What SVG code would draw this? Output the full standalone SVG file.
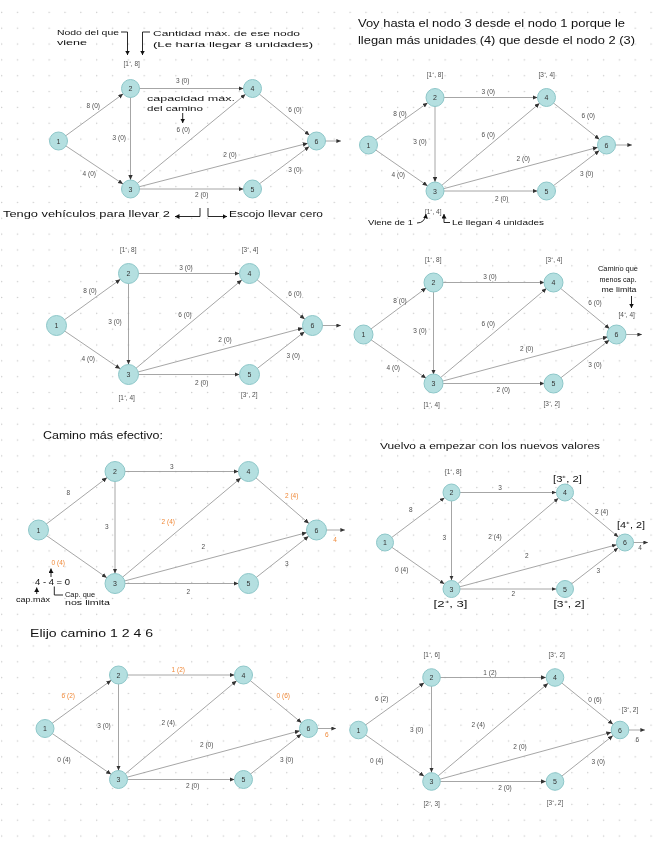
<svg xmlns="http://www.w3.org/2000/svg" width="656" height="848" viewBox="0 0 656 848">
<style>
.n{fill:#b4dfe0;stroke:#8cc6c8;stroke-width:1}
.nt{font-family:"Liberation Sans",Arial,sans-serif;font-size:7px;fill:#333;text-anchor:middle}
.e line{stroke:#9c9c9c;stroke-width:0.9}
.e9 line{marker-end:url(#a9)}
.e10 line{marker-end:url(#a10)}
.e85 line{marker-end:url(#a85)}
.e line.out{marker-end:url(#at)}
.l{font-family:"Liberation Sans",Arial,sans-serif;font-size:6.5px;fill:#505050;text-anchor:middle}
.o{fill:#f08a3a}
.h{font-family:"Liberation Sans",Arial,sans-serif;fill:#111}
.ha{fill:none;stroke:#111;stroke-width:0.9;marker-end:url(#ah)}
.hb{fill:none;stroke:#111;stroke-width:0.9}
</style>
<defs>
<filter id="gs" filterUnits="userSpaceOnUse" x="0" y="0" width="656" height="848"><feOffset dx="0" dy="0"/></filter>
<pattern id="dots" width="15.84" height="15.84" patternUnits="userSpaceOnUse"><circle cx="1.7" cy="12.4" r="0.65" fill="#c4c4c4"/></pattern>
<marker id="a9" markerUnits="userSpaceOnUse" markerWidth="6" markerHeight="5" refX="14" refY="2.2" orient="auto"><path d="M0,0 L5,2.2 L0,4.4z" fill="#333"/></marker>
<marker id="a10" markerUnits="userSpaceOnUse" markerWidth="6" markerHeight="5" refX="15" refY="2.2" orient="auto"><path d="M0,0 L5,2.2 L0,4.4z" fill="#333"/></marker>
<marker id="a85" markerUnits="userSpaceOnUse" markerWidth="6" markerHeight="5" refX="13.3" refY="2" orient="auto"><path d="M0,0 L4.6,2 L0,4z" fill="#333"/></marker>
<marker id="at" markerUnits="userSpaceOnUse" markerWidth="6" markerHeight="5" refX="4.6" refY="2" orient="auto"><path d="M0,0 L4.6,2 L0,4z" fill="#333"/></marker>
<marker id="ah" markerUnits="userSpaceOnUse" markerWidth="6" markerHeight="6" refX="4.5" refY="2.5" orient="auto"><path d="M0,0 L4.5,2.5 L0,5z" fill="#111"/></marker>
</defs>
<rect width="656" height="848" fill="#fff"/>
<rect width="656" height="848" fill="url(#dots)"/>
<g filter="url(#gs)">

<!-- Panel 1 -->
<g id="p1">
<g id="p1-edges" class="e e9">
<line x1="58.5" y1="141" x2="130.5" y2="88.5"/>
<line x1="58.5" y1="141" x2="130.5" y2="189"/>
<line x1="130.5" y1="88.5" x2="130.5" y2="189"/>
<line x1="130.5" y1="88.5" x2="252.5" y2="88.5"/>
<line x1="130.5" y1="189" x2="252.5" y2="88.5"/>
<line x1="130.5" y1="189" x2="252.5" y2="189"/>
<line x1="130.5" y1="189" x2="316.5" y2="141"/>
<line x1="252.5" y1="88.5" x2="316.5" y2="141"/>
<line x1="252.5" y1="189" x2="316.5" y2="141"/>
<line class="out" x1="316.5" y1="141" x2="341" y2="141"/>
</g>
<g id="p1-n1"><circle class="n" cx="58.5" cy="141" r="9"/><text class="nt" x="58.5" y="143.5">1</text></g>
<g id="p1-n2"><circle class="n" cx="130.5" cy="88.5" r="9"/><text class="nt" x="130.5" y="91">2</text></g>
<g id="p1-n3"><circle class="n" cx="130.5" cy="189" r="9"/><text class="nt" x="130.5" y="191.5">3</text></g>
<g id="p1-n4"><circle class="n" cx="252.5" cy="88.5" r="9"/><text class="nt" x="252.5" y="91">4</text></g>
<g id="p1-n5"><circle class="n" cx="252.5" cy="189" r="9"/><text class="nt" x="252.5" y="191.5">5</text></g>
<g id="p1-n6"><circle class="n" cx="316.5" cy="141" r="9"/><text class="nt" x="316.5" y="143.5">6</text></g>
<g id="p1-labels">
<text class="l" x="131.7" y="65.6">[1⁺, 8]</text>
<text class="l" x="182.7" y="83.3">3 (0)</text>
<text class="l" x="93.3" y="108.3">8 (0)</text>
<text class="l" x="295" y="111.6">6 (0)</text>
<text class="l" x="119.3" y="139.6">3 (0)</text>
<text class="l" x="183.3" y="132.3">6 (0)</text>
<text class="l" x="230" y="157.3">2 (0)</text>
<text class="l" x="295" y="172.3">3 (0)</text>
<text class="l" x="89.3" y="175.6">4 (0)</text>
<text class="l" x="201.7" y="197.3">2 (0)</text>
</g>
<g id="p1-notes">
<text class="h" x="57" y="35" font-size="7.5" textLength="62" lengthAdjust="spacingAndGlyphs">Nodo del que</text>
<text class="h" x="57" y="45" font-size="7.5" textLength="30" lengthAdjust="spacingAndGlyphs">viene</text>
<path class="ha" d="M121,32 L127.5,32 L127.5,55"/>
<path class="ha" d="M150,32 L142.5,32 L142.5,55"/>
<text class="h" x="153" y="36" font-size="8" textLength="147" lengthAdjust="spacingAndGlyphs">Cantidad máx. de ese nodo</text>
<text class="h" x="153" y="47" font-size="8" textLength="160" lengthAdjust="spacingAndGlyphs">(Le haría llegar 8 unidades)</text>
<text class="h" x="147" y="101" font-size="8" textLength="88" lengthAdjust="spacingAndGlyphs">capacidad máx.</text>
<text class="h" x="147" y="111" font-size="8" textLength="56" lengthAdjust="spacingAndGlyphs">del camino</text>
<path class="ha" d="M182.7,113 L182.7,123"/>
<text class="h" x="3" y="217" font-size="9.5" textLength="167" lengthAdjust="spacingAndGlyphs">Tengo vehículos para llevar 2</text>
<path class="ha" d="M200,208 L200,216.5 L175,216.5"/>
<path class="ha" d="M208,208 L208,216.5 L227,216.5"/>
<text class="h" x="229" y="217" font-size="9.5" textLength="94" lengthAdjust="spacingAndGlyphs">Escojo llevar cero</text>
</g>
</g>

<!-- Panel 2 -->
<g id="p2">
<g id="p2-edges" class="e e9">
<line x1="368.5" y1="145" x2="435" y2="97.5"/>
<line x1="368.5" y1="145" x2="435" y2="191"/>
<line x1="435" y1="97.5" x2="435" y2="191"/>
<line x1="435" y1="97.5" x2="546.5" y2="97.5"/>
<line x1="435" y1="191" x2="546.5" y2="97.5"/>
<line x1="435" y1="191" x2="546.5" y2="191"/>
<line x1="435" y1="191" x2="606.5" y2="145"/>
<line x1="546.5" y1="97.5" x2="606.5" y2="145"/>
<line x1="546.5" y1="191" x2="606.5" y2="145"/>
<line class="out" x1="606.5" y1="145" x2="632" y2="145"/>
</g>
<g id="p2-n1"><circle class="n" cx="368.5" cy="145" r="9"/><text class="nt" x="368.5" y="147.5">1</text></g>
<g id="p2-n2"><circle class="n" cx="435" cy="97.5" r="9"/><text class="nt" x="435" y="100">2</text></g>
<g id="p2-n3"><circle class="n" cx="435" cy="191" r="9"/><text class="nt" x="435" y="193.5">3</text></g>
<g id="p2-n4"><circle class="n" cx="546.5" cy="97.5" r="9"/><text class="nt" x="546.5" y="100">4</text></g>
<g id="p2-n5"><circle class="n" cx="546.5" cy="191" r="9"/><text class="nt" x="546.5" y="193.5">5</text></g>
<g id="p2-n6"><circle class="n" cx="606.5" cy="145" r="9"/><text class="nt" x="606.5" y="147.5">6</text></g>
<g id="p2-labels">
<text class="l" x="435" y="77.3">[1⁺, 8]</text>
<text class="l" x="546.7" y="77.3">[3⁺, 4]</text>
<text class="l" x="488.3" y="94">3 (0)</text>
<text class="l" x="400" y="115.6">8 (0)</text>
<text class="l" x="588.3" y="118.3">6 (0)</text>
<text class="l" x="420" y="144">3 (0)</text>
<text class="l" x="488.3" y="137.3">6 (0)</text>
<text class="l" x="523.3" y="160.6">2 (0)</text>
<text class="l" x="586.7" y="175.6">3 (0)</text>
<text class="l" x="398.3" y="177.3">4 (0)</text>
<text class="l" x="501.7" y="200.6">2 (0)</text>
<text class="l" x="433.3" y="214">[1⁺, 4]</text>
</g>
<g id="p2-notes">
<text class="h" x="358" y="27" font-size="10" textLength="267" lengthAdjust="spacingAndGlyphs">Voy hasta el nodo 3 desde el nodo 1  porque le</text>
<text class="h" x="358" y="43.5" font-size="10" textLength="277" lengthAdjust="spacingAndGlyphs">llegan más unidades (4) que desde el nodo 2 (3)</text>
<text class="h" x="368" y="225" font-size="8" textLength="45" lengthAdjust="spacingAndGlyphs">Viene de 1</text>
<path class="ha" d="M417,223 Q425,223 426,214"/>
<path class="ha" d="M450,222.5 L444,222.5 L444,214"/>
<text class="h" x="452" y="225" font-size="8" textLength="92" lengthAdjust="spacingAndGlyphs">Le llegan 4 unidades</text>
</g>
</g>

<!-- Panel 3 -->
<g id="p3">
<g id="p3-edges" class="e e10">
<line x1="56.5" y1="325.5" x2="128.5" y2="273.5"/>
<line x1="56.5" y1="325.5" x2="128.5" y2="374.5"/>
<line x1="128.5" y1="273.5" x2="128.5" y2="374.5"/>
<line x1="128.5" y1="273.5" x2="249.5" y2="273.5"/>
<line x1="128.5" y1="374.5" x2="249.5" y2="273.5"/>
<line x1="128.5" y1="374.5" x2="249.5" y2="374.5"/>
<line x1="128.5" y1="374.5" x2="312.5" y2="325.5"/>
<line x1="249.5" y1="273.5" x2="312.5" y2="325.5"/>
<line x1="249.5" y1="374.5" x2="312.5" y2="325.5"/>
<line class="out" x1="312.5" y1="325.5" x2="341" y2="325.5"/>
</g>
<g id="p3-n1"><circle class="n" cx="56.5" cy="325.5" r="10"/><text class="nt" x="56.5" y="328">1</text></g>
<g id="p3-n2"><circle class="n" cx="128.5" cy="273.5" r="10"/><text class="nt" x="128.5" y="276">2</text></g>
<g id="p3-n3"><circle class="n" cx="128.5" cy="374.5" r="10"/><text class="nt" x="128.5" y="377">3</text></g>
<g id="p3-n4"><circle class="n" cx="249.5" cy="273.5" r="10"/><text class="nt" x="249.5" y="276">4</text></g>
<g id="p3-n5"><circle class="n" cx="249.5" cy="374.5" r="10"/><text class="nt" x="249.5" y="377">5</text></g>
<g id="p3-n6"><circle class="n" cx="312.5" cy="325.5" r="10"/><text class="nt" x="312.5" y="328">6</text></g>
<g id="p3-labels">
<text class="l" x="128.3" y="252.3">[1⁺, 8]</text>
<text class="l" x="250" y="252.3">[3⁺, 4]</text>
<text class="l" x="186" y="270">3 (0)</text>
<text class="l" x="90" y="293.3">8 (0)</text>
<text class="l" x="295" y="295.6">6 (0)</text>
<text class="l" x="115" y="324">3 (0)</text>
<text class="l" x="185" y="316.6">6 (0)</text>
<text class="l" x="225" y="342.3">2 (0)</text>
<text class="l" x="293.3" y="358">3 (0)</text>
<text class="l" x="88.3" y="360.6">4 (0)</text>
<text class="l" x="201.7" y="384.6">2 (0)</text>
<text class="l" x="126.7" y="400">[1⁺, 4]</text>
<text class="l" x="249.3" y="397.3">[3⁺, 2]</text>
</g>
</g>

<!-- Panel 4 -->
<g id="p4">
<g id="p4-edges" class="e e9">
<line x1="363.5" y1="334.5" x2="433.5" y2="282.5"/>
<line x1="363.5" y1="334.5" x2="433.5" y2="383.5"/>
<line x1="433.5" y1="282.5" x2="433.5" y2="383.5"/>
<line x1="433.5" y1="282.5" x2="553.5" y2="282.5"/>
<line x1="433.5" y1="383.5" x2="553.5" y2="282.5"/>
<line x1="433.5" y1="383.5" x2="553.5" y2="383.5"/>
<line x1="433.5" y1="383.5" x2="616.5" y2="334.5"/>
<line x1="553.5" y1="282.5" x2="616.5" y2="334.5"/>
<line x1="553.5" y1="383.5" x2="616.5" y2="334.5"/>
<line class="out" x1="616.5" y1="334.5" x2="642" y2="334.5"/>
</g>
<g id="p4-n1"><circle class="n" cx="363.5" cy="334.5" r="9.5"/><text class="nt" x="363.5" y="337">1</text></g>
<g id="p4-n2"><circle class="n" cx="433.5" cy="282.5" r="9.5"/><text class="nt" x="433.5" y="285">2</text></g>
<g id="p4-n3"><circle class="n" cx="433.5" cy="383.5" r="9.5"/><text class="nt" x="433.5" y="386">3</text></g>
<g id="p4-n4"><circle class="n" cx="553.5" cy="282.5" r="9.5"/><text class="nt" x="553.5" y="285">4</text></g>
<g id="p4-n5"><circle class="n" cx="553.5" cy="383.5" r="9.5"/><text class="nt" x="553.5" y="386">5</text></g>
<g id="p4-n6"><circle class="n" cx="616.5" cy="334.5" r="9.5"/><text class="nt" x="616.5" y="337">6</text></g>
<g id="p4-labels">
<text class="l" x="433.3" y="262.3">[1⁺, 8]</text>
<text class="l" x="554" y="262.3">[3⁺, 4]</text>
<text class="l" x="490" y="279">3 (0)</text>
<text class="l" x="400" y="303">8 (0)</text>
<text class="l" x="595" y="305">6 (0)</text>
<text class="l" x="420" y="333">3 (0)</text>
<text class="l" x="488.3" y="325.6">6 (0)</text>
<text class="l" x="526.7" y="351.3">2 (0)</text>
<text class="l" x="595" y="367.3">3 (0)</text>
<text class="l" x="393.3" y="369.6">4 (0)</text>
<text class="l" x="503.3" y="392.3">2 (0)</text>
<text class="l" x="431.7" y="407.3">[1⁺, 4]</text>
<text class="l" x="551.7" y="405.6">[3⁺, 2]</text>
<text class="l" x="626.7" y="316.6">[4⁺, 4]</text>
</g>
<g id="p4-notes">
<text class="h" x="618" y="271" font-size="6.5" text-anchor="middle" textLength="40" lengthAdjust="spacingAndGlyphs">Camino que</text>
<text class="h" x="618" y="282" font-size="6.5" text-anchor="middle" textLength="37" lengthAdjust="spacingAndGlyphs">menos cap.</text>
<text class="h" x="619" y="292" font-size="6.5" text-anchor="middle" textLength="35" lengthAdjust="spacingAndGlyphs">me limita</text>
<path class="ha" d="M631.5,296 L631.5,308"/>
</g>
</g>

<!-- Panel 5 -->
<g id="p5">
<g id="p5-edges" class="e e10">
<line x1="38.5" y1="530" x2="115" y2="471.5"/>
<line x1="38.5" y1="530" x2="115" y2="583.5"/>
<line x1="115" y1="471.5" x2="115" y2="583.5"/>
<line x1="115" y1="471.5" x2="248.5" y2="471.5"/>
<line x1="115" y1="583.5" x2="248.5" y2="471.5"/>
<line x1="115" y1="583.5" x2="248.5" y2="583.5"/>
<line x1="115" y1="583.5" x2="316.5" y2="530"/>
<line x1="248.5" y1="471.5" x2="316.5" y2="530"/>
<line x1="248.5" y1="583.5" x2="316.5" y2="530"/>
<line class="out" x1="316.5" y1="530" x2="345" y2="530"/>
</g>
<g id="p5-n1"><circle class="n" cx="38.5" cy="530" r="10"/><text class="nt" x="38.5" y="532.5">1</text></g>
<g id="p5-n2"><circle class="n" cx="115" cy="471.5" r="10"/><text class="nt" x="115" y="474">2</text></g>
<g id="p5-n3"><circle class="n" cx="115" cy="583.5" r="10"/><text class="nt" x="115" y="586">3</text></g>
<g id="p5-n4"><circle class="n" cx="248.5" cy="471.5" r="10"/><text class="nt" x="248.5" y="474">4</text></g>
<g id="p5-n5"><circle class="n" cx="248.5" cy="583.5" r="10"/><text class="nt" x="248.5" y="586">5</text></g>
<g id="p5-n6"><circle class="n" cx="316.5" cy="530" r="10"/><text class="nt" x="316.5" y="532.5">6</text></g>
<g id="p5-labels">
<text class="l" x="68.3" y="495.3" font-size="7.5">8</text>
<text class="l" x="171.7" y="469.3" font-size="7.5">3</text>
<text class="l o" x="291.7" y="497.6" font-size="7.5">2 (4)</text>
<text class="l" x="106.7" y="528.6" font-size="7.5">3</text>
<text class="l o" x="168.3" y="524.3" font-size="7.5">2 (4)</text>
<text class="l" x="203.3" y="549.3" font-size="7.5">2</text>
<text class="l" x="286.7" y="566" font-size="7.5">3</text>
<text class="l o" x="58.3" y="565.3" font-size="7.5">0 (4)</text>
<text class="l" x="188.3" y="594.3" font-size="7.5">2</text>
<text class="l o" x="335" y="541.5" font-size="8">4</text>
</g>
<g id="p5-notes">
<text class="h" x="43" y="438.5" font-size="10" textLength="120" lengthAdjust="spacingAndGlyphs">Camino más efectivo:</text>
<path class="ha" d="M51,577 L51,568.5"/>
<text class="h" x="35" y="584.5" font-size="8.5" textLength="35" lengthAdjust="spacingAndGlyphs">4 - 4 = 0</text>
<path class="ha" d="M36.7,594 L36.7,587.5"/>
<text class="h" x="16" y="601.5" font-size="7" textLength="34" lengthAdjust="spacingAndGlyphs">cap.máx</text>
<path class="hb" d="M54.3,586.5 L54.3,595 L63,595"/>
<text class="h" x="65" y="596.5" font-size="6.5" textLength="30" lengthAdjust="spacingAndGlyphs">Cap. que</text>
<text class="h" x="65" y="604.5" font-size="6.5" textLength="45" lengthAdjust="spacingAndGlyphs">nos limita</text>
</g>
</g>

<!-- Panel 6 -->
<g id="p6">
<g id="p6-edges" class="e e85">
<line x1="385" y1="542.5" x2="451.5" y2="492.5"/>
<line x1="385" y1="542.5" x2="451.5" y2="589"/>
<line x1="451.5" y1="492.5" x2="451.5" y2="589"/>
<line x1="451.5" y1="492.5" x2="565" y2="492.5"/>
<line x1="451.5" y1="589" x2="565" y2="492.5"/>
<line x1="451.5" y1="589" x2="565" y2="589"/>
<line x1="451.5" y1="589" x2="625" y2="542.5"/>
<line x1="565" y1="492.5" x2="625" y2="542.5"/>
<line x1="565" y1="589" x2="625" y2="542.5"/>
<line class="out" x1="625" y1="542.5" x2="648" y2="542.5"/>
</g>
<g id="p6-n1"><circle class="n" cx="385" cy="542.5" r="8.5"/><text class="nt" x="385" y="545" font-size="6.5">1</text></g>
<g id="p6-n2"><circle class="n" cx="451.5" cy="492.5" r="8.5"/><text class="nt" x="451.5" y="495" font-size="6.5">2</text></g>
<g id="p6-n3"><circle class="n" cx="451.5" cy="589" r="8.5"/><text class="nt" x="451.5" y="591.5" font-size="6.5">3</text></g>
<g id="p6-n4"><circle class="n" cx="565" cy="492.5" r="8.5"/><text class="nt" x="565" y="495" font-size="6.5">4</text></g>
<g id="p6-n5"><circle class="n" cx="565" cy="589" r="8.5"/><text class="nt" x="565" y="591.5" font-size="6.5">5</text></g>
<g id="p6-n6"><circle class="n" cx="625" cy="542.5" r="8.5"/><text class="nt" x="625" y="545" font-size="6.5">6</text></g>
<g id="p6-labels">
<text class="l" x="453.3" y="474.4" font-size="6">[1⁺, 8]</text>
<text class="l" x="500" y="490.4" font-size="6">3</text>
<text class="l" x="410.7" y="512" font-size="6">8</text>
<text class="l" x="601.7" y="513.8" font-size="6">2 (4)</text>
<text class="l" x="444.3" y="540.4" font-size="6">3</text>
<text class="l" x="495" y="538.8" font-size="6">2 (4)</text>
<text class="l" x="526.7" y="558" font-size="6">2</text>
<text class="l" x="598.3" y="572.8" font-size="6">3</text>
<text class="l" x="401.7" y="572" font-size="6">0 (4)</text>
<text class="l" x="513.3" y="596" font-size="6">2</text>
<text class="l" x="640" y="550.4" font-size="6">4</text>
</g>
<g id="p6-notes">
<text class="h" x="380" y="449" font-size="9" textLength="220" lengthAdjust="spacingAndGlyphs">Vuelvo a empezar con los nuevos valores</text>
<text class="h" x="567.5" y="481.5" font-size="8.5" text-anchor="middle" textLength="29" lengthAdjust="spacingAndGlyphs">[3⁺, 2]</text>
<text class="h" x="631" y="528" font-size="8.5" text-anchor="middle" textLength="28" lengthAdjust="spacingAndGlyphs">[4⁺, 2]</text>
<text class="h" x="450.5" y="606.5" font-size="8.5" text-anchor="middle" textLength="34" lengthAdjust="spacingAndGlyphs">[2⁺, 3]</text>
<text class="h" x="569" y="607" font-size="8.5" text-anchor="middle" textLength="31" lengthAdjust="spacingAndGlyphs">[3⁺, 2]</text>
</g>
</g>

<!-- Panel 7 -->
<g id="p7">
<g id="p7-edges" class="e e9">
<line x1="45" y1="728.5" x2="118.5" y2="675"/>
<line x1="45" y1="728.5" x2="118.5" y2="779.5"/>
<line x1="118.5" y1="675" x2="118.5" y2="779.5"/>
<line x1="118.5" y1="675" x2="243.5" y2="675"/>
<line x1="118.5" y1="779.5" x2="243.5" y2="675"/>
<line x1="118.5" y1="779.5" x2="243.5" y2="779.5"/>
<line x1="118.5" y1="779.5" x2="308.5" y2="728.5"/>
<line x1="243.5" y1="675" x2="308.5" y2="728.5"/>
<line x1="243.5" y1="779.5" x2="308.5" y2="728.5"/>
<line class="out" x1="308.5" y1="728.5" x2="336" y2="728.5"/>
</g>
<g id="p7-n1"><circle class="n" cx="45" cy="728.5" r="9"/><text class="nt" x="45" y="731">1</text></g>
<g id="p7-n2"><circle class="n" cx="118.5" cy="675" r="9"/><text class="nt" x="118.5" y="677.5">2</text></g>
<g id="p7-n3"><circle class="n" cx="118.5" cy="779.5" r="9"/><text class="nt" x="118.5" y="782">3</text></g>
<g id="p7-n4"><circle class="n" cx="243.5" cy="675" r="9"/><text class="nt" x="243.5" y="677.5">4</text></g>
<g id="p7-n5"><circle class="n" cx="243.5" cy="779.5" r="9"/><text class="nt" x="243.5" y="782">5</text></g>
<g id="p7-n6"><circle class="n" cx="308.5" cy="728.5" r="9"/><text class="nt" x="308.5" y="731">6</text></g>
<g id="p7-labels">
<text class="l o" x="68.3" y="698.4" font-size="6.8">6 (2)</text>
<text class="l o" x="178.3" y="671.7" font-size="6.8">1 (2)</text>
<text class="l o" x="283.3" y="698.4" font-size="6.8">0 (6)</text>
<text class="l" x="104" y="728.4" font-size="6.8">3 (0)</text>
<text class="l" x="168.3" y="725" font-size="6.8">2 (4)</text>
<text class="l" x="206.7" y="746.7" font-size="6.8">2 (0)</text>
<text class="l" x="286.7" y="762.4" font-size="6.8">3 (0)</text>
<text class="l" x="64" y="762.4" font-size="6.8">0 (4)</text>
<text class="l" x="192.7" y="788.4" font-size="6.8">2 (0)</text>
<text class="l o" x="326.7" y="737.4" font-size="6.8">6</text>
</g>
<g id="p7-notes">
<text class="h" x="30" y="636.5" font-size="10" textLength="123" lengthAdjust="spacingAndGlyphs">Elijo camino 1 2 4 6</text>
</g>
</g>

<!-- Panel 8 -->
<g id="p8">
<g id="p8-edges" class="e e9">
<line x1="358.5" y1="730" x2="431.5" y2="677.5"/>
<line x1="358.5" y1="730" x2="431.5" y2="781.5"/>
<line x1="431.5" y1="677.5" x2="431.5" y2="781.5"/>
<line x1="431.5" y1="677.5" x2="555" y2="677.5"/>
<line x1="431.5" y1="781.5" x2="555" y2="677.5"/>
<line x1="431.5" y1="781.5" x2="555" y2="781.5"/>
<line x1="431.5" y1="781.5" x2="620" y2="730"/>
<line x1="555" y1="677.5" x2="620" y2="730"/>
<line x1="555" y1="781.5" x2="620" y2="730"/>
<line class="out" x1="620" y1="730" x2="645" y2="730"/>
</g>
<g id="p8-n1"><circle class="n" cx="358.5" cy="730" r="8.8"/><text class="nt" x="358.5" y="732.5">1</text></g>
<g id="p8-n2"><circle class="n" cx="431.5" cy="677.5" r="8.8"/><text class="nt" x="431.5" y="680">2</text></g>
<g id="p8-n3"><circle class="n" cx="431.5" cy="781.5" r="8.8"/><text class="nt" x="431.5" y="784">3</text></g>
<g id="p8-n4"><circle class="n" cx="555" cy="677.5" r="8.8"/><text class="nt" x="555" y="680">4</text></g>
<g id="p8-n5"><circle class="n" cx="555" cy="781.5" r="8.8"/><text class="nt" x="555" y="784">5</text></g>
<g id="p8-n6"><circle class="n" cx="620" cy="730" r="8.8"/><text class="nt" x="620" y="732.5">6</text></g>
<g id="p8-labels">
<text class="l" x="431.7" y="657.3">[1⁺, 6]</text>
<text class="l" x="556.7" y="657.3">[3⁺, 2]</text>
<text class="l" x="490" y="674.6">1 (2)</text>
<text class="l" x="381.7" y="700.6">6 (2)</text>
<text class="l" x="595" y="701.6">0 (6)</text>
<text class="l" x="630" y="711.6">[3⁺, 2]</text>
<text class="l" x="416.7" y="731.6">3 (0)</text>
<text class="l" x="478.3" y="727.3">2 (4)</text>
<text class="l" x="520" y="749">2 (0)</text>
<text class="l" x="598.3" y="764">3 (0)</text>
<text class="l" x="376.7" y="763">0 (4)</text>
<text class="l" x="505" y="790">2 (0)</text>
<text class="l" x="431.7" y="806.3">[2⁺, 3]</text>
<text class="l" x="555" y="804.6">[3⁺, 2]</text>
<text class="l" x="637.3" y="741.6">6</text>
</g>
</g>
</g>
</svg>
